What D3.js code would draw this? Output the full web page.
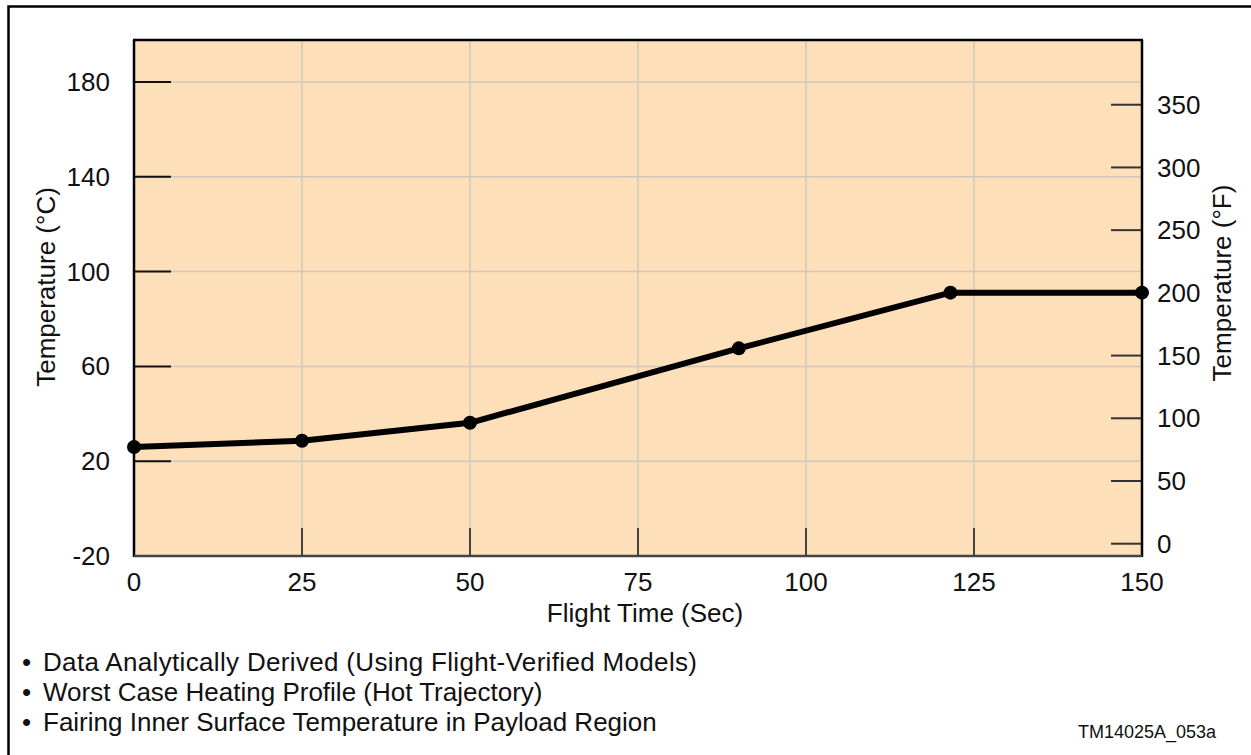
<!DOCTYPE html>
<html>
<head>
<meta charset="utf-8">
<script src="https://cdn.jsdelivr.net/npm/d3@7"></script>
<style>
  html, body { margin: 0; padding: 0; background: #fff; }
  svg { display: block; font-family: "Liberation Sans", Arial, Helvetica, sans-serif; }
</style>
</head>
<body>
<svg id="chart" width="1251" height="755"></svg>
<script>
// ---- data ----
const flightTime = [0, 25, 50, 90, 121.5, 150];
const tempC = [26, 28.6, 36.2, 67.6, 91.1, 91.1];
const xTicks = [0, 25, 50, 75, 100, 125, 150];
const yTicksC = [-20, 20, 60, 100, 140, 180];
const yTicksF = [0, 50, 100, 150, 200, 250, 300, 350];
const notes = [
  "Data Analytically Derived (Using Flight-Verified Models)",
  "Worst Case Heating Profile (Hot Trajectory)",
  "Fairing Inner Surface Temperature in Payload Region"
];
const xTitle = "Flight Time (Sec)";
const yTitleC = "Temperature (\u00B0C)";
const yTitleF = "Temperature (\u00B0F)";
const figId = "TM14025A_053a";

// ---- layout ----
const W = 1251, H = 755;
const P = { left: 134, right: 1142, top: 40, bottom: 556 };
const svg = d3.select("#chart");

// outer frame
svg.append("rect")
  .attr("x", 8.5).attr("y", 6.5)
  .attr("width", W + 20).attr("height", H + 20)
  .attr("fill", "none").attr("stroke", "#000").attr("stroke-width", 2.5);

const x = d3.scaleLinear().domain([0, 150]).range([P.left, P.right]);
const yC = d3.scaleLinear().domain([-20, 197.7]).range([P.bottom, P.top]);
const yF = d3.scaleLinear().domain([-9.8, 401.6]).range([P.bottom, P.top]);

// plot background
svg.append("rect")
  .attr("x", P.left).attr("y", P.top)
  .attr("width", P.right - P.left).attr("height", P.bottom - P.top)
  .attr("fill", "#FDDFB9");

const gridColor = "#CFC6BC";
// vertical grid
svg.append("g").selectAll("line")
  .data(xTicks.filter(d => d > 0 && d < 150))
  .join("line")
  .attr("x1", d => x(d)).attr("x2", d => x(d))
  .attr("y1", P.top).attr("y2", P.bottom)
  .attr("stroke", gridColor).attr("stroke-width", 1.5);
// horizontal grid
svg.append("g").selectAll("line")
  .data(yTicksC.filter(d => d > -20))
  .join("line")
  .attr("x1", P.left).attr("x2", P.right)
  .attr("y1", d => yC(d)).attr("y2", d => yC(d))
  .attr("stroke", gridColor).attr("stroke-width", 1.5);

// ticks (inward)
svg.append("g").selectAll("line")
  .data(yTicksC)
  .join("line")
  .attr("x1", P.left).attr("x2", P.left + 37)
  .attr("y1", d => yC(d)).attr("y2", d => yC(d))
  .attr("stroke", "#111").attr("stroke-width", 2);
svg.append("g").selectAll("line")
  .data(yTicksF)
  .join("line")
  .attr("x1", P.right - 31).attr("x2", P.right)
  .attr("y1", d => yF(d)).attr("y2", d => yF(d))
  .attr("stroke", "#333").attr("stroke-width", 2);
svg.append("g").selectAll("line")
  .data(xTicks.filter(d => d > 0 && d < 150))
  .join("line")
  .attr("x1", d => x(d)).attr("x2", d => x(d))
  .attr("y1", P.bottom).attr("y2", P.bottom - 28)
  .attr("stroke", "#444").attr("stroke-width", 2);

// plot borders
svg.append("line").attr("x1", P.left - 1).attr("x2", P.right + 1).attr("y1", P.top).attr("y2", P.top)
  .attr("stroke", "#000").attr("stroke-width", 2.5);
svg.append("line").attr("x1", P.left).attr("x2", P.left).attr("y1", P.top).attr("y2", P.bottom + 1)
  .attr("stroke", "#000").attr("stroke-width", 2.5);
svg.append("line").attr("x1", P.right).attr("x2", P.right).attr("y1", P.top).attr("y2", P.bottom + 1)
  .attr("stroke", "#000").attr("stroke-width", 2.5);
svg.append("line").attr("x1", P.left).attr("x2", P.right).attr("y1", P.bottom).attr("y2", P.bottom)
  .attr("stroke", "#444").attr("stroke-width", 2.5);

// tick labels
const fs = 26;
svg.append("g").selectAll("text")
  .data(yTicksC)
  .join("text")
  .attr("x", 110).attr("y", d => yC(d))
  .attr("dy", "0.35em")
  .attr("text-anchor", "end")
  .attr("font-size", fs).attr("fill", "#111")
  .text(d => d);
svg.append("g").selectAll("text")
  .data(yTicksF)
  .join("text")
  .attr("x", 1157).attr("y", d => yF(d))
  .attr("dy", "0.35em")
  .attr("text-anchor", "start")
  .attr("font-size", fs).attr("fill", "#111")
  .text(d => d);
svg.append("g").selectAll("text")
  .data(xTicks)
  .join("text")
  .attr("x", d => x(d)).attr("y", 591)
  .attr("text-anchor", "middle")
  .attr("font-size", fs).attr("fill", "#111")
  .text(d => d);

// axis titles
svg.append("text")
  .attr("x", 645).attr("y", 622)
  .attr("text-anchor", "middle")
  .attr("font-size", fs).attr("fill", "#111")
  .text(xTitle);
svg.append("text")
  .attr("transform", "translate(55,287) rotate(-90)")
  .attr("text-anchor", "middle")
  .attr("font-size", fs).attr("fill", "#111")
  .text(yTitleC);
svg.append("text")
  .attr("transform", "translate(1231,283) rotate(-90)")
  .attr("text-anchor", "middle")
  .attr("font-size", fs).attr("fill", "#111")
  .text(yTitleF);

// data line
const line = d3.line().x((d, i) => x(flightTime[i])).y(d => yC(d));
svg.append("path")
  .datum(tempC)
  .attr("d", line)
  .attr("fill", "none").attr("stroke", "#000")
  .attr("stroke-width", 6).attr("stroke-linejoin", "round");
svg.append("g").selectAll("circle")
  .data(tempC)
  .join("circle")
  .attr("cx", (d, i) => x(flightTime[i])).attr("cy", d => yC(d))
  .attr("r", 7).attr("fill", "#000");

// notes
const ng = svg.append("g");
notes.forEach((t, i) => {
  ng.append("text")
    .attr("x", 22).attr("y", 671 + i * 30)
    .attr("font-size", 26).attr("fill", "#111")
    .text("\u2022");
  ng.append("text")
    .attr("x", 43).attr("y", 671 + i * 30)
    .attr("font-size", 26).attr("fill", "#111")
    .attr("textLength", i === 0 ? 654 : null)
    .text(t);
});

svg.append("text")
  .attr("x", 1216).attr("y", 738)
  .attr("text-anchor", "end")
  .attr("font-size", 18).attr("fill", "#111")
  .text(figId);
</script>
</body>
</html>
